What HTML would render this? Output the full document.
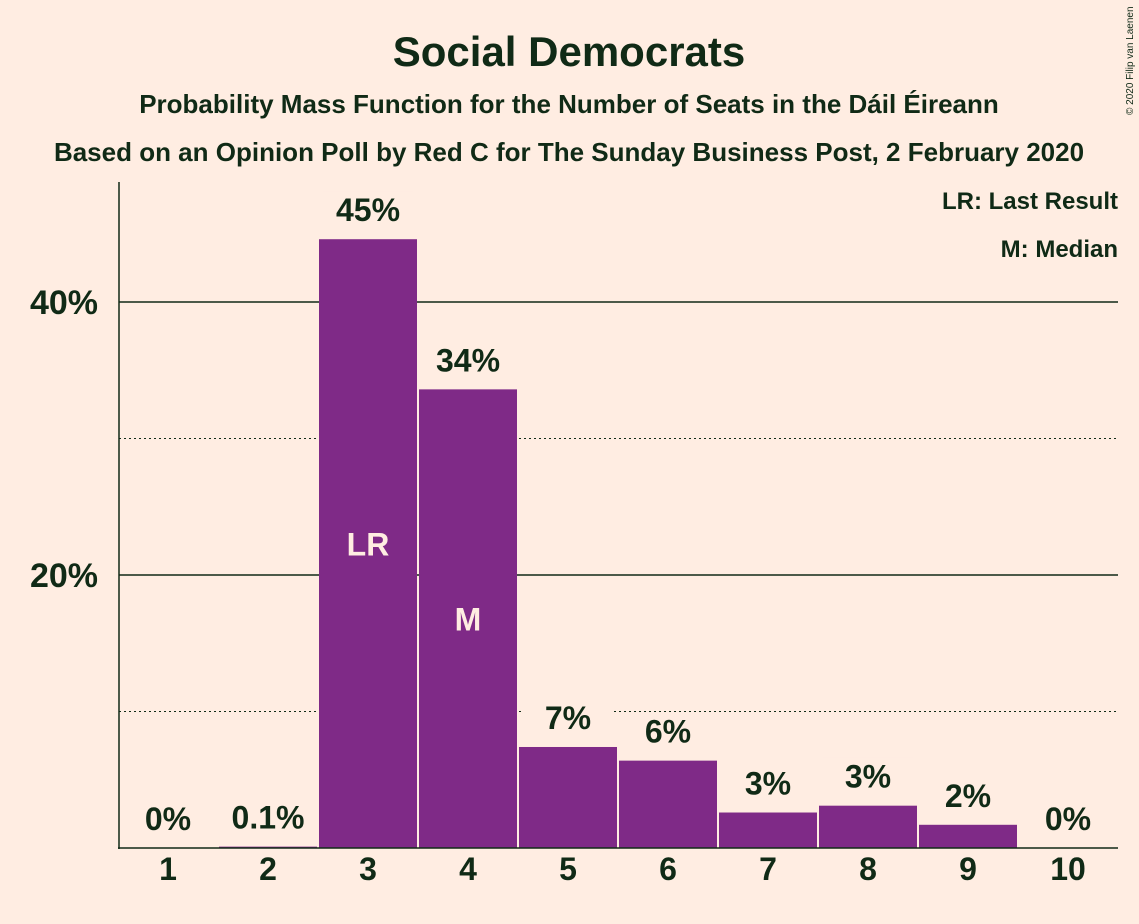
<!DOCTYPE html>
<html><head><meta charset="utf-8"><style>
body{margin:0;background:#FFEDE2;}
svg{display:block;font-family:"Liberation Sans",sans-serif;}
</style></head><body>
<svg id="c" width="1139" height="924">
<rect width="1139" height="924" fill="#FFEDE2"/>
<text x="569" y="66" text-anchor="middle" font-size="42" font-weight="bold" fill="#102A16">Social Democrats</text>
<text x="569" y="113" text-anchor="middle" font-size="26" font-weight="bold" fill="#102A16">Probability Mass Function for the Number of Seats in the Dáil Éireann</text>
<text x="569" y="161" text-anchor="middle" font-size="26" font-weight="bold" fill="#102A16">Based on an Opinion Poll by Red C for The Sunday Business Post, 2 February 2020</text>
<text x="1133" y="115" font-size="10" fill="#102A16" transform="rotate(-90 1133 115)">© 2020 Filip van Laenen</text>
<text x="1118" y="209" text-anchor="end" font-size="24" font-weight="bold" fill="#102A16">LR: Last Result</text>
<text x="1118" y="257" text-anchor="end" font-size="24" font-weight="bold" fill="#102A16">M: Median</text>
<g id="g"></g>
</svg>
<script>
const categories=[1,2,3,4,5,6,7,8,9,10];
const values=[0,0.1,44.6,33.6,7.4,6.4,2.6,3.1,1.7,0];
const labels=["0%","0.1%","45%","34%","7%","6%","3%","3%","2%","0%"];
const ticks=[10,20,30,40];
const tickLabels={20:"20%",40:"40%"};
const markers={3:"LR",4:"M"};
const NS="http://www.w3.org/2000/svg";
const g=document.getElementById('g');
const y=v=>848-v*13.65;
const xc=c=>168+(c-1)*100;
function mk(t,a,txt){const e=document.createElementNS(NS,t);for(const k in a)e.setAttribute(k,a[k]);if(txt!=null)e.textContent=txt;g.appendChild(e);return e;}
ticks.forEach(t=>{
 const l=mk('line',{x1:119,x2:1118,y1:y(t),y2:y(t),stroke:'#102A16','stroke-width':t%20?1:1.5,'stroke-dasharray':t%20?'2,3':''});
 
 
 if(tickLabels[t]){const e=mk('text',{x:98,y:y(t)+12,'text-anchor':'end','font-size':34,'font-weight':'bold',fill:'#102A16'},tickLabels[t]);
 
 }
});
categories.forEach((c,i)=>{
 const v=values[i],top=y(v);
 if(v>0){const r=mk('rect',{x:xc(c)-49,y:top,width:98,height:848-top,fill:'#7F2A87'});
 
 }
 const ly=Math.min(top,848)-18;
 const bg=mk('rect',{x:xc(c)-45,y:ly-30,width:90,height:38,fill:'#FFEDE2'});
 
 
 const t=mk('text',{x:xc(c),y:ly,'text-anchor':'middle','font-size':32,'font-weight':'bold',fill:'#102A16'},labels[i]);
 
 
 const xl=mk('text',{x:xc(c),y:880,'text-anchor':'middle','font-size':32,'font-weight':'bold',fill:'#102A16'},String(c));
 
 
 if(markers[c]){const m=mk('text',{x:xc(c),y:(top+848)/2+12,'text-anchor':'middle','font-size':32,'font-weight':'bold',fill:'#FFEDE2'},markers[c]);
 
 }
});
const ax=mk('line',{x1:119,x2:119,y1:182,y2:849,stroke:'#102A16','stroke-width':1.5});


const bx=mk('line',{x1:118,x2:1118,y1:848,y2:848,stroke:'#102A16','stroke-width':1.5});


</script>
</body></html>
